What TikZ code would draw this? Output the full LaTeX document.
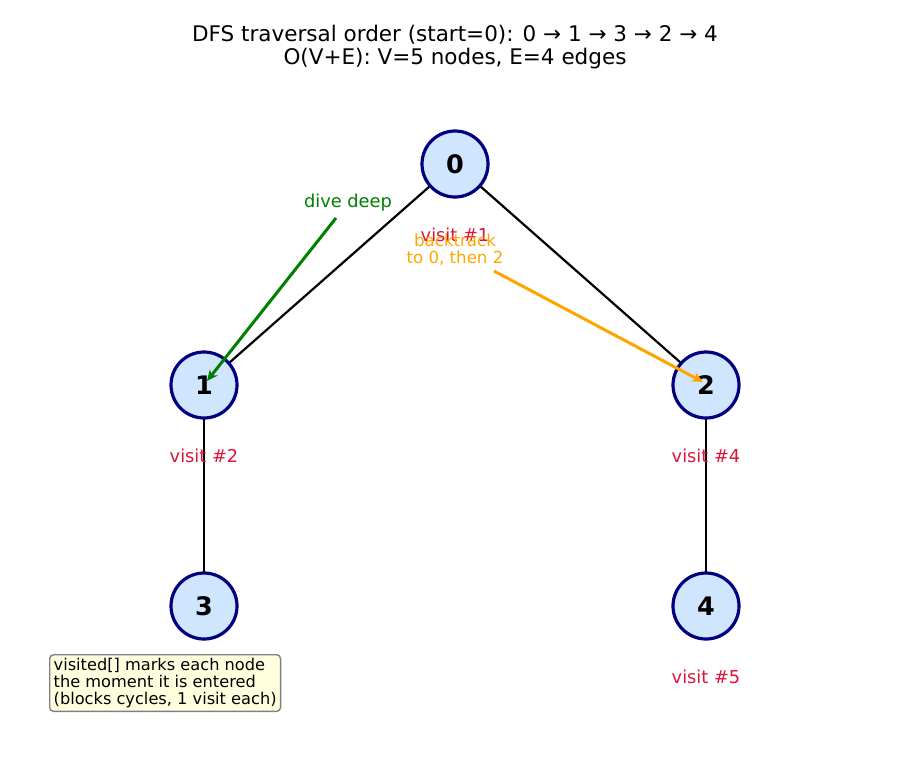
\documentclass[tikz,border=0pt]{standalone}
\usepackage{fontspec}
\setmainfont{DejaVu Sans}
\usetikzlibrary{arrows.meta}
\definecolor{navyc}{HTML}{000080}
\definecolor{nodefill}{HTML}{D0E6FF}
\definecolor{crim}{HTML}{DC143C}
\definecolor{grn}{HTML}{008000}
\definecolor{orng}{HTML}{FFA500}
\definecolor{lyel}{HTML}{FFFFE0}
\begin{document}
\begin{tikzpicture}[x=1pt,y=-1pt,
  vert/.style={circle,draw=navyc,fill=nodefill,line width=3.2pt,minimum size=66pt,inner sep=0pt,font=\fontsize{25.5}{30}\selectfont\bfseries},
  edge/.style={black,line width=2.2pt},
  visitlbl/.style={text=crim,font=\fontsize{17.8}{21}\selectfont},
  ann/.style={line width=3pt,-{Stealth[length=11pt,width=10pt]}},
  txt/.style={inner sep=0pt}]
\useasboundingbox (0,0) rectangle (910,780);
\node[txt,align=center,font=\fontsize{21.5}{23}\selectfont] (title) at (455,47) {DFS traversal order (start=0): 0 → 1 → 3 → 2 → 4\\O(V+E): V=5 nodes, E=4 edges};
\coordinate (p0) at (455,164);
\coordinate (p1) at (204,385);
\coordinate (p2) at (706,385);
\coordinate (p3) at (204,606);
\coordinate (p4) at (706,606);
\draw[edge] (p0) -- (p1);
\draw[edge] (p0) -- (p2);
\draw[edge] (p1) -- (p3);
\draw[edge] (p2) -- (p4);
\node[vert] (n0) at (p0) {0};
\node[vert] (n1) at (p1) {1};
\node[vert] (n2) at (p2) {2};
\node[vert] (n3) at (p3) {3};
\node[vert] (n4) at (p4) {4};
\node[visitlbl,txt] (v1) at (455,235) {visit \#1};
\node[visitlbl,txt] (v2) at (204,456) {visit \#2};
\node[visitlbl,txt] (v4) at (706,456) {visit \#4};
\node[visitlbl,txt] (v5) at (706,677) {visit \#5};
\node[txt,text=grn,font=\fontsize{17.8}{21}\selectfont] (dive) at (348,203) {dive deep};
\node[txt,text=orng,align=center,font=\fontsize{16.6}{17}\selectfont] (back) at (455,250) {backtrack\\to 0, then 2};
\coordinate (ds) at (336,218);
\coordinate (de) at (207,381);
\coordinate (bs) at (494,271);
\coordinate (be) at (703,382);
\draw[ann,grn] (ds) -- (de);
\draw[ann,orng] (bs) -- (be);
\node[draw=gray,line width=1.4pt,fill=lyel,rounded corners=4pt,align=left,inner xsep=4pt,inner ysep=3.5pt,anchor=north west,font=\fontsize{16.2}{17}\selectfont] (note) at (49,654) {visited[] marks each node\\the moment it is entered\\(blocks cycles, 1 visit each)};
\end{tikzpicture}
\end{document}
